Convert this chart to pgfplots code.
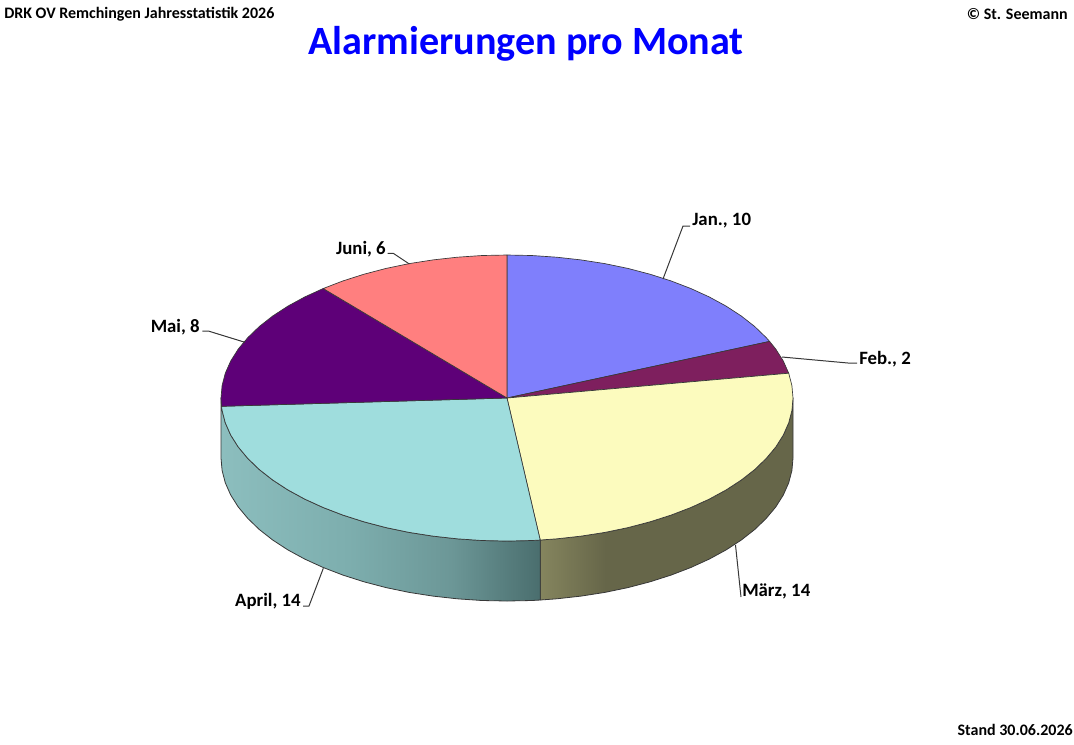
\documentclass[border=0pt]{standalone}
\usepackage{fontspec}
\setmainfont{Carlito}
\usepackage{pgfplots}
\pgfplotsset{compat=1.18}
\definecolor{cJan}{HTML}{7F7FFC}
\definecolor{cFeb}{HTML}{7E1F5E}
\definecolor{cMar}{HTML}{FCFBBE}
\definecolor{cApr}{HTML}{9FDDDD}
\definecolor{cMai}{HTML}{5E0078}
\definecolor{cJun}{HTML}{FF7F7F}
\definecolor{edge}{HTML}{383838}
\definecolor{mA}{HTML}{85855E}
\definecolor{mB}{HTML}{666649}
\definecolor{aA}{HTML}{8CBEBE}
\definecolor{aB}{HTML}{7DAEAE}
\definecolor{aC}{HTML}{6C9797}
\definecolor{aD}{HTML}{4A6E6E}
\pgfdeclarehorizontalshading{marside}{100bp}{color(0bp)=(mA);color(25bp)=(mA);color(38bp)=(mB);color(100bp)=(mB)}
\pgfdeclarehorizontalshading{aprside}{100bp}{color(0bp)=(aA);color(25bp)=(aA);color(45bp)=(aB);color(61bp)=(aC);color(75bp)=(aD);color(100bp)=(aD)}
\tikzset{
  lab/.style={font=\fontsize{14.1pt}{16pt}\selectfont\bfseries, inner sep=0pt, text=black},
  small/.style={font=\fontsize{12pt}{14pt}\selectfont\bfseries, inner sep=0pt, text=black},
}
\begin{document}
\begin{tikzpicture}
\begin{axis}[
  scale only axis, width=805.5pt, height=558pt,
  xmin=0, xmax=1074, ymin=0, ymax=744, y dir=reverse,
  hide axis, clip=false,
  every axis plot/.append style={no markers, line join=round},
]
% page extent
\addplot[draw=none] coordinates {(0,0) (1074,744)};
% rim, März
\addplot[shading=marside, draw=edge, line width=0.6pt] coordinates {
(793,398)(791.9,410.5)(788.7,422.8)(783.3,435)(775.8,446.9)(766.2,458.4)(754.7,469.5)(741.3,480)(726.1,489.9)(709.2,499.1)(690.8,507.5)(671,515.1)(650,521.8)(627.9,527.6)(604.8,532.4)(581,536.1)(556.7,538.8)(540.2,540)
(540.2,600)(556.7,598.8)(581,596.1)(604.8,592.4)(627.9,587.6)(650,581.8)(671,575.1)(690.8,567.5)(709.2,559.1)(726.1,549.9)(741.3,540)(754.7,529.5)(766.2,518.4)(775.8,506.9)(783.3,495)(788.7,482.8)(791.9,470.5)(793,458)
} --cycle;
% rim, April
\addplot[shading=aprside, draw=edge, line width=0.6pt] coordinates {
(540.2,540)(531.9,540.5)(507,541)(482.1,540.5)(457.3,538.8)(433,536.1)(409.2,532.4)(386.1,527.6)(364,521.8)(343,515.1)(323.2,507.5)(304.8,499.1)(287.9,489.9)(272.7,480)(259.3,469.5)(247.8,458.4)(238.2,446.9)(230.7,435)(225.3,422.8)(222.1,410.5)(221,398)
(221,458)(222.1,470.5)(225.3,482.8)(230.7,495)(238.2,506.9)(247.8,518.4)(259.3,529.5)(272.7,540)(287.9,549.9)(304.8,559.1)(323.2,567.5)(343,575.1)(364,581.8)(386.1,587.6)(409.2,592.4)(433,596.1)(457.3,598.8)(482.1,600.5)(507,601)(531.9,600.5)(540.2,600)
} --cycle;
% top, Jan.
\addplot[fill=cJan, draw=edge, line width=0.5pt] coordinates {
(507,398)(507,255)(531.9,255.5)(556.7,257.2)(581,259.9)(604.8,263.6)(627.9,268.4)(650,274.2)(671,280.9)(690.8,288.5)(709.2,296.9)(726.1,306.1)(741.3,316)(754.7,326.5)(766.2,337.6)(769.6,341.4)
} --cycle;
% top, Feb.
\addplot[fill=cFeb, draw=edge, line width=0.5pt] coordinates {
(507,398)(769.6,341.4)(775.8,349.1)(783.3,361)(788.7,373.2)
} --cycle;
% top, März
\addplot[fill=cMar, draw=edge, line width=0.5pt] coordinates {
(507,398)(788.7,373.2)(791.9,385.5)(793,398)(791.9,410.5)(788.7,422.8)(783.3,435)(775.8,446.9)(766.2,458.4)(754.7,469.5)(741.3,480)(726.1,489.9)(709.2,499.1)(690.8,507.5)(671,515.1)(650,521.8)(627.9,527.6)(604.8,532.4)(581,536.1)(556.7,538.8)(540.2,540)
} --cycle;
% top, April
\addplot[fill=cApr, draw=edge, line width=0.5pt] coordinates {
(507,398)(540.2,540)(531.9,540.5)(507,541)(482.1,540.5)(457.3,538.8)(433,536.1)(409.2,532.4)(386.1,527.6)(364,521.8)(343,515.1)(323.2,507.5)(304.8,499.1)(287.9,489.9)(272.7,480)(259.3,469.5)(247.8,458.4)(238.2,446.9)(230.7,435)(225.3,422.8)(222.1,410.5)(221.5,406.3)
} --cycle;
% top, Mai
\addplot[fill=cMai, draw=edge, line width=0.5pt] coordinates {
(507,398)(221.5,406.3)(221,398)(222.1,385.5)(225.3,373.2)(230.7,361)(238.2,349.1)(247.8,337.6)(259.3,326.5)(272.7,316)(287.9,306.1)(304.8,296.9)(323.2,288.5)
} --cycle;
% top, Juni
\addplot[fill=cJun, draw=edge, line width=0.5pt] coordinates {
(507,398)(323.2,288.5)(343,280.9)(364,274.2)(386.1,268.4)(409.2,263.6)(433,259.9)(457.3,257.2)(482.1,255.5)(507,255)
} --cycle;
% leaders
\addplot[draw=edge, line width=0.75pt] coordinates {(663,279)(683,226)(690,226)};
\addplot[draw=edge, line width=0.75pt] coordinates {(782,357)(848,363)(857,363)};
\addplot[draw=edge, line width=0.75pt] coordinates {(735.5,545)(741,597)};
\addplot[draw=edge, line width=0.75pt] coordinates {(323.3,568.3)(309,606)(303,606)};
\addplot[draw=edge, line width=0.75pt] coordinates {(245,342.3)(208.3,331)(202.3,331)};
\addplot[draw=edge, line width=0.75pt] coordinates {(409.3,264)(393.3,253.3)(387.7,253.3)};
% labels
\node[lab, anchor=west] at (axis cs:692,221) {Jan., 10};
\node[lab, anchor=west] at (axis cs:859,359) {Feb., 2};
\node[lab, anchor=west] at (axis cs:742,591) {März, 14};
\node[lab, anchor=east] at (axis cs:301,601) {April, 14};
\node[lab, anchor=east] at (axis cs:200,327) {Mai, 8};
\node[lab, anchor=east] at (axis cs:386,249) {Juni, 6};
% titles
\node[font=\fontsize{30.1pt}{34pt}\selectfont\bfseries, text={rgb,255:red,0;green,0;blue,255}, inner sep=0pt] at (axis cs:526,44) {Alarmierungen pro Monat};
\node[small, anchor=west] at (axis cs:4,14) {DRK OV Remchingen Jahresstatistik 2026};
\node[small, anchor=east] at (axis cs:1068,14) {© St. Seemann};
\node[small, anchor=east] at (axis cs:1073,730) {Stand 30.06.2026};
\end{axis}
\end{tikzpicture}
\end{document}
